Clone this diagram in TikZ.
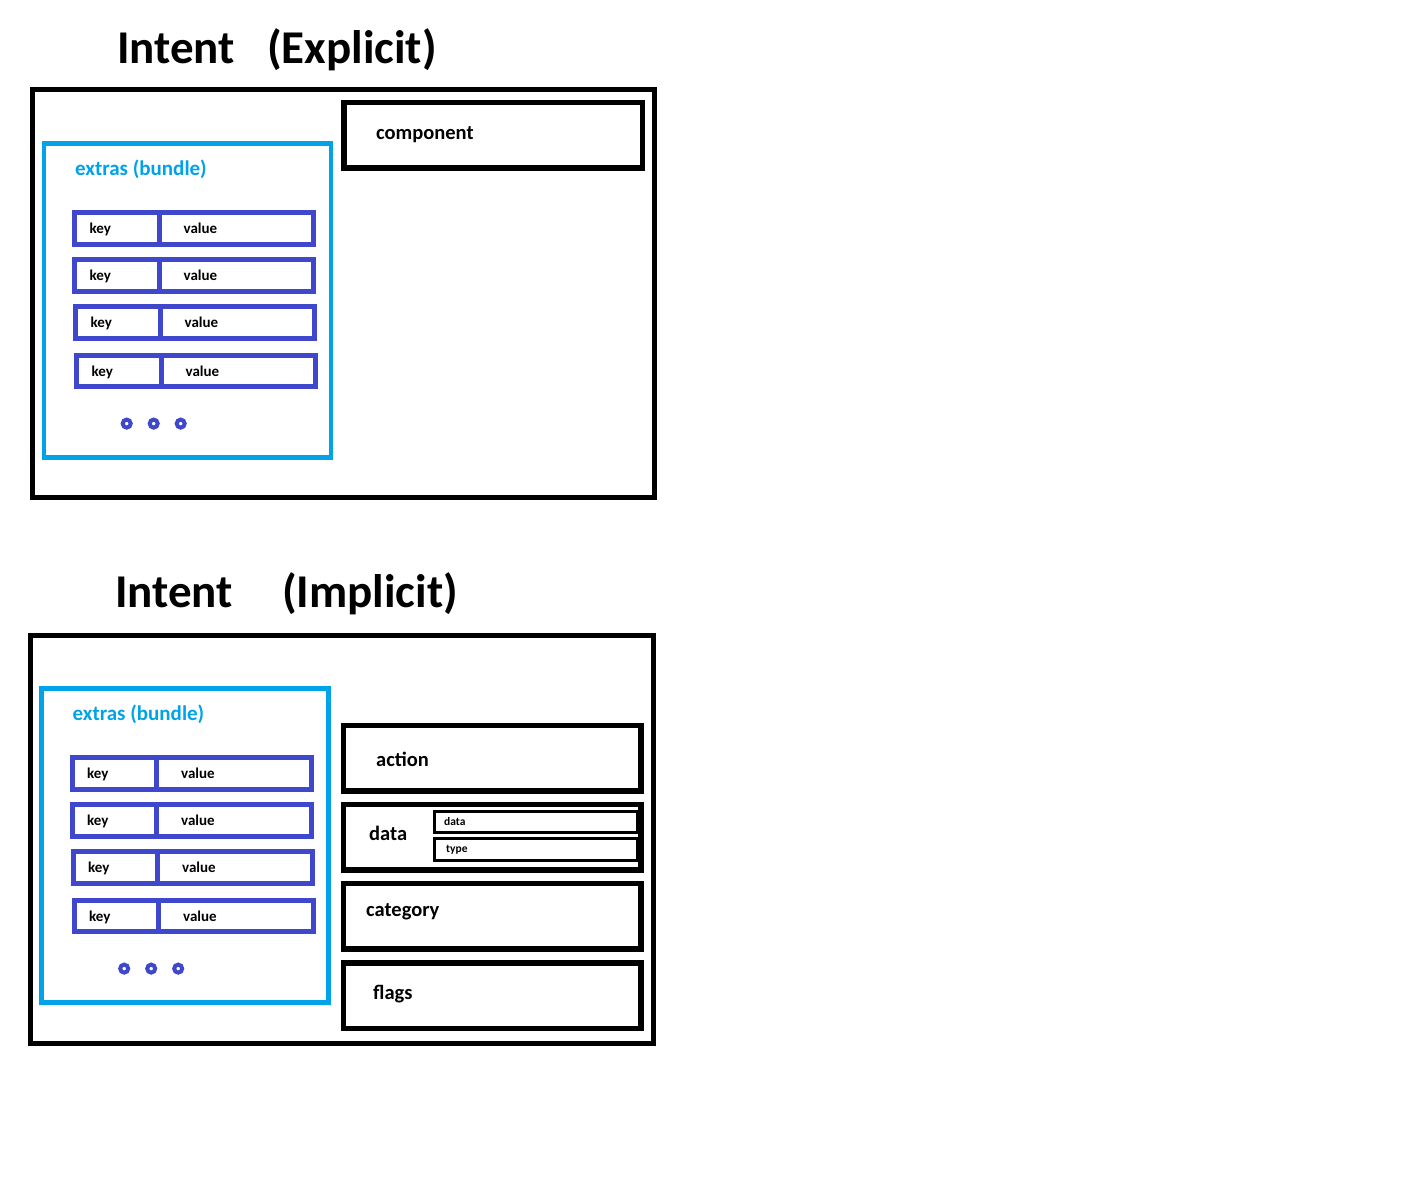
\documentclass[tikz,border=0pt]{standalone}
\usepackage{fontspec}
\setmainfont{Carlito}
\definecolor{bundlecyan}{RGB}{0,162,232}
\definecolor{kvblue}{RGB}{63,72,204}

\begin{document}
\begin{tikzpicture}[x=1pt,y=-1pt,
  intentbox/.style={draw,line width=5pt},
  fieldbox/.style={draw,line width=5.5pt},
  subbox/.style={draw,line width=3pt},
  bundlebox/.style={draw=bundlecyan,line width=4.7pt},
  kvbox/.style={draw=kvblue,line width=5pt},
  headline/.style={anchor=base west,inner sep=0pt,font=\fontsize{47}{52}\selectfont\bfseries},
  fieldtext/.style={anchor=base west,inner sep=0pt,font=\fontsize{20.5}{24}\selectfont\bfseries},
  bundletext/.style={anchor=base west,inner sep=0pt,text=bundlecyan,font=\fontsize{21}{24}\selectfont\bfseries},
  kvtext/.style={anchor=base west,inner sep=0pt,font=\fontsize{15}{18}\selectfont\bfseries},
  subtext/.style={anchor=base west,inner sep=0pt,font=\fontsize{11.5}{14}\selectfont\bfseries}]
  \useasboundingbox (0,0) rectangle (1406,1202);

  % explicit intent
  \node[headline] (ex-intent) at (117,63) {Intent};
  \node[headline] (ex-kind) at (267,63) {(Explicit)};
  \draw[intentbox] (32.5,89) rectangle (654.5,497.5);
  \draw[fieldbox] (344,102.5) rectangle (642.5,168);
  \node[fieldtext] (component) at (376,139) {component};

  % implicit intent
  \node[headline] (im-intent) at (115,607) {Intent};
  \node[headline] (im-kind) at (282,607) {(Implicit)};
  \draw[intentbox] (30.5,635) rectangle (653.5,1043.5);
  \draw[fieldbox] (343.5,725.5) rectangle (641,791);
  \node[fieldtext] (action) at (376,766) {action};
  \draw[fieldbox] (343.5,804.5) rectangle (641,870);
  \node[fieldtext] (data) at (369,840) {data};
  \draw[subbox] (434,811) rectangle (637,832);
  \node[subtext] (data-uri) at (444,825) {data};
  \draw[subbox] (434,838) rectangle (637,860);
  \node[subtext] (data-type) at (446,852) {type};
  \draw[fieldbox] (343.5,883.5) rectangle (641,949);
  \node[fieldtext] (category) at (366,916) {category};
  \draw[fieldbox] (343.5,963) rectangle (641,1028.5);
  \node[fieldtext] (flags) at (373,999) {flags};

  % extras (bundle), same in both
  \foreach \bx/\by/\bn in {44/143.3/ex, 41.5/688.3/im}{
    \begin{scope}[shift={(\bx,\by)}]
      \draw[bundlebox] (0,0) rectangle (287,314);
      \node[bundletext] (\bn-extras) at (31,32) {extras (bundle)};
      \foreach \i/\ry/\rx in {1/69.5/30.5, 2/116.2/30.5, 3/163.5/31.5, 4/211.8/32.5}{
        \draw[kvbox] (\rx,\ry) rectangle (\rx+239,\ry+31.7);
        \draw[kvbox] (\rx+84.5,\ry) -- (\rx+84.5,\ry+31.7);
        \node[kvtext] (\bn-key\i) at (\rx+15,\ry+21) {key};
        \node[kvtext] (\bn-value\i) at (\rx+109,\ry+21) {value};
      }
      \foreach \d in {0,27,54}
        \draw[kvblue,line width=4pt] (82.7+\d,280.3) circle (4pt);
    \end{scope}
  }
\end{tikzpicture}
\end{document}
